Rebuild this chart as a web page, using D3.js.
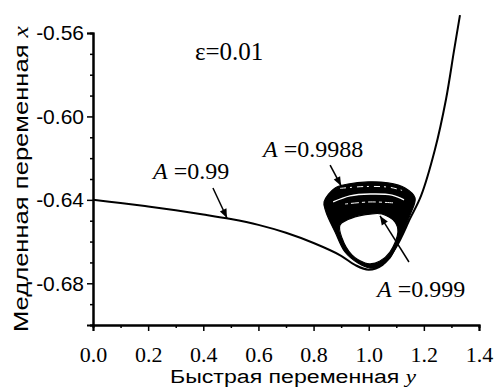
<!DOCTYPE html>
<html>
<head>
<meta charset="utf-8">
<script src="https://cdn.jsdelivr.net/npm/d3@7"></script>
<style>
  body { margin: 0; background: #fff; }
  svg { display: block; }
</style>
</head>
<body>
<svg id="chart" width="494" height="387"></svg>
<script>
// slow manifold, [y, x]
const manifold = [
  [0.00, -0.6400], [0.10, -0.6415], [0.20, -0.6432], [0.30, -0.6450],
  [0.40, -0.6470], [0.50, -0.6492], [0.60, -0.6520], [0.70, -0.6558],
  [0.80, -0.6607], [0.90, -0.6668], [0.95, -0.6712], [1.00, -0.6735],
  [1.05, -0.6712], [1.10, -0.6625], [1.15, -0.6490], [1.19, -0.6380],
  [1.24, -0.6160], [1.28, -0.5920], [1.31, -0.5680], [1.331, -0.5514]
];

// outer and inner edges of the band of cycles
const outerCycle = [
  [0.838, -0.6410], [0.878, -0.6343], [0.925, -0.6324], [0.997, -0.6314],
  [1.070, -0.6319], [1.132, -0.6343], [1.168, -0.6391], [1.150, -0.6473],
  [1.114, -0.6583], [1.077, -0.6679], [1.041, -0.6717], [1.005, -0.6727],
  [0.961, -0.6703], [0.914, -0.6650], [0.878, -0.6554], [0.845, -0.6458]
];
const innerCycle = [
  [0.896, -0.6520], [0.950, -0.6482], [1.005, -0.6468], [1.048, -0.6468],
  [1.095, -0.6506], [1.106, -0.6554], [1.077, -0.6650], [1.041, -0.6693],
  [1.005, -0.6707], [0.987, -0.6703], [0.939, -0.6664], [0.903, -0.6583]
];
// light gaps inside the band
const gapUpper = [[0.896, -0.6345], [0.987, -0.6336], [1.077, -0.6340], [1.121, -0.6355]];
const gapMiddle = [[0.871, -0.6410], [0.932, -0.6381], [1.005, -0.6372], [1.084, -0.6377], [1.128, -0.6400]];
const gapLower = [[0.914, -0.6420], [1.005, -0.6410], [1.095, -0.6415]];

const xTicks = [0.0, 0.2, 0.4, 0.6, 0.8, 1.0, 1.2, 1.4];
const xMinor = [0.1, 0.3, 0.5, 0.7, 0.9, 1.1, 1.3];
const yTicks = [-0.56, -0.60, -0.64, -0.68];
const yMinor = [-0.57, -0.58, -0.59, -0.61, -0.62, -0.63, -0.65, -0.66, -0.67, -0.69, -0.70];

const labels = [
  { t: 'ε=0.01', y: 0.370, x: -0.5729, size: 25 },
  { a: 'A', t: ' =0.99', y: 0.218, x: -0.6300, size: 24 },
  { a: 'A', t: ' =0.9988', y: 0.617, x: -0.6194, size: 24 },
  { a: 'A', t: ' =0.999', y: 1.030, x: -0.6866, size: 24 }
];
const arrows = [
  [[0.435, -0.6343], [0.486, -0.6487]],
  [[0.860, -0.6233], [0.900, -0.6333]],
  [[1.146, -0.6698], [1.041, -0.6477]]
];

const svg = d3.select('#chart');
const x = d3.scaleLinear().domain([0, 1.4]).range([93, 479]);
const y = d3.scaleLinear().domain([-0.70, -0.56]).range([325, 33]);
const serif = '"Liberation Serif", "Times New Roman", serif';
const sans = '"Liberation Sans", Arial, sans-serif';

// x axis
const gx = svg.append('g').attr('transform', `translate(0,${y(-0.70)})`);
gx.call(d3.axisBottom(x).tickValues(xTicks).tickSize(6).tickFormat(d3.format('.1f')));
gx.append('g').call(d3.axisBottom(x).tickValues(xMinor).tickSize(3).tickFormat(''));
gx.selectAll('path.domain').attr('stroke-width', 2);
gx.selectAll('line').attr('stroke-width', 1.5);
gx.selectAll('text').attr('font-family', serif).attr('font-size', 22).attr('fill', '#000').attr('dy', '1.25em');

// y axis
const gy = svg.append('g').attr('transform', `translate(${x(0)},0)`);
gy.call(d3.axisLeft(y).tickValues(yTicks).tickSize(6).tickFormat(d => d.toFixed(2)));
gy.append('g').call(d3.axisLeft(y).tickValues(yMinor).tickSize(3).tickFormat(''));
gy.selectAll('path.domain').attr('stroke-width', 2);
gy.selectAll('line').attr('stroke-width', 1.5);
gy.selectAll('text').attr('font-family', sans).attr('font-size', 21).attr('fill', '#000').attr('x', -9);

// axis titles
svg.append('text')
  .attr('x', 293).attr('y', 383)
  .attr('text-anchor', 'middle')
  .attr('font-family', sans).attr('font-size', 18)
  .attr('textLength', 246).attr('lengthAdjust', 'spacingAndGlyphs')
  .text('Быстрая  переменная ')
  .append('tspan').attr('font-family', serif).attr('font-style', 'italic').text('y');

svg.append('text')
  .attr('transform', 'translate(28,179) rotate(-90)')
  .attr('text-anchor', 'middle')
  .attr('font-family', sans).attr('font-size', 21)
  .attr('textLength', 306).attr('lengthAdjust', 'spacingAndGlyphs')
  .text('Медленная  переменная ')
  .append('tspan').attr('font-family', serif).attr('font-style', 'italic').text('x');

// band of cycles
const closed = d3.line().x(d => x(d[0])).y(d => y(d[1])).curve(d3.curveCatmullRomClosed);
const open = d3.line().x(d => x(d[0])).y(d => y(d[1])).curve(d3.curveCatmullRom);

svg.append('path')
  .attr('d', closed(outerCycle) + closed(innerCycle))
  .attr('fill', '#000').attr('fill-rule', 'evenodd')
  .attr('stroke', '#000').attr('stroke-width', 1.2);

svg.append('path').attr('d', open(gapUpper))
  .attr('fill', 'none').attr('stroke', '#fff').attr('stroke-width', 1)
  .attr('stroke-dasharray', '6 4 2 5');
svg.append('path').attr('d', open(gapMiddle))
  .attr('fill', 'none').attr('stroke', '#fff').attr('stroke-width', 1.4);
svg.append('path').attr('d', open(gapLower))
  .attr('fill', 'none').attr('stroke', '#fff').attr('stroke-width', 1)
  .attr('stroke-dasharray', '3 3 8 3');

// slow manifold
svg.append('path')
  .attr('d', open(manifold))
  .attr('fill', 'none').attr('stroke', '#000').attr('stroke-width', 2);

// arrows
svg.append('defs').append('marker')
  .attr('id', 'head').attr('viewBox', '0 0 10 10')
  .attr('refX', 10).attr('refY', 5)
  .attr('markerWidth', 13).attr('markerHeight', 9)
  .attr('markerUnits', 'userSpaceOnUse')
  .attr('orient', 'auto')
  .append('path').attr('d', 'M0,1 L10,5 L0,9 Z').attr('fill', '#000');

svg.selectAll('line.arrow')
  .data(arrows)
  .join('line')
  .attr('class', 'arrow')
  .attr('x1', d => x(d[0][0])).attr('y1', d => y(d[0][1]))
  .attr('x2', d => x(d[1][0])).attr('y2', d => y(d[1][1]))
  .attr('stroke', '#000').attr('stroke-width', 1.5)
  .attr('marker-end', 'url(#head)');

// annotations
const ann = svg.selectAll('text.ann')
  .data(labels)
  .join('text')
  .attr('class', 'ann')
  .attr('x', d => x(d.y)).attr('y', d => y(d.x))
  .attr('font-family', serif)
  .attr('font-size', d => d.size)
  .attr('fill', '#000');
ann.filter(d => d.a).append('tspan').attr('font-style', 'italic').text(d => d.a);
ann.append('tspan').text(d => d.t);
</script>
</body>
</html>
